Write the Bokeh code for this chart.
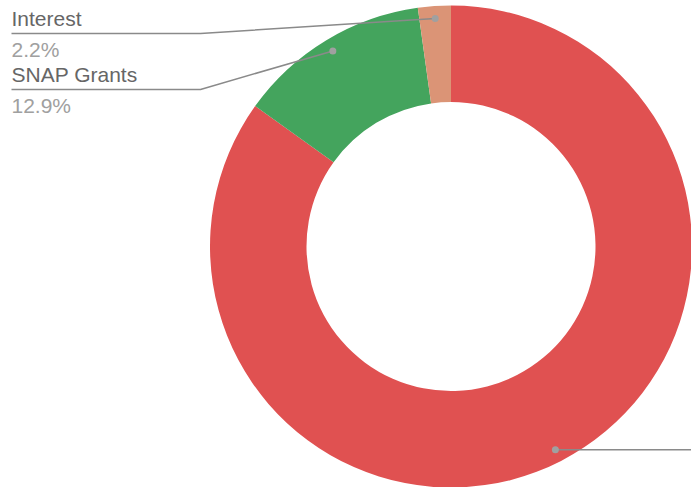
import math
from bokeh.plotting import figure
from bokeh.models import Range1d
from bokeh.core.properties import value
from bokeh.embed import file_html
from bokeh.resources import INLINE

# ---- data ----
categories = ["Other", "SNAP Grants", "Interest"]
shares = [84.9, 12.9, 2.2]
colors = ["#E05151", "#44A45D", "#DB9476"]
labeled = [False, True, True]

# ---- layout ----
W, H = 691, 487
cx, cy = 450.5, H - 246
r_out, r_in = 241, 144.5
r_dot = 228.5

p = figure(width=W, height=H, output_backend="svg", toolbar_location=None,
           x_range=Range1d(0, W), y_range=Range1d(0, H), min_border=0)
p.axis.visible = False
p.grid.visible = False
p.outline_line_color = None
p.background_fill_color = "white"

total = sum(shares)
cum = 0.0
mids = []
for s, c in zip(shares, colors):
    a_end = math.pi / 2 - 2 * math.pi * cum / total
    a_start = math.pi / 2 - 2 * math.pi * (cum + s) / total
    p.annular_wedge(x=cx, y=cy, inner_radius=r_in, outer_radius=r_out,
                    start_angle=a_start, end_angle=a_end, direction="anticlock",
                    fill_color=c, line_color=None)
    mids.append((a_start + a_end) / 2)
    cum += s

# leader lines and labels
label_rows = {"Interest": 0, "SNAP Grants": 1}
row_line = [33, 89]  # underline position (pixels from top)
for cat, s, m, lab in zip(categories, shares, mids, labeled):
    dx = cx + r_dot * math.cos(m)
    dy = cy + r_dot * math.sin(m)
    if lab:
        i = label_rows[cat]
        uy = H - row_line[i]
        p.line([11, 200, dx], [uy, uy, dy], line_color="#8a8a8a", line_width=1.5)
        p.text(x=[11], y=[uy + 15], text=[cat], text_font=value("Liberation Sans"),
               text_font_size="21px", text_color="#666666", text_baseline="alphabetic")
        p.text(x=[11], y=[uy - 16], text=[f"{s:.1f}%"], text_font=value("Liberation Sans"),
               text_font_size="21px", text_color="#a0a0a0", text_baseline="alphabetic")
    else:
        p.line([dx, W + 5], [dy, dy], line_color="#8a8a8a", line_width=1.5)
    p.scatter(x=[dx], y=[dy], size=7, fill_color="#a0a0a0", line_color=None)

open("out.html", "w").write(file_html(p, INLINE))
